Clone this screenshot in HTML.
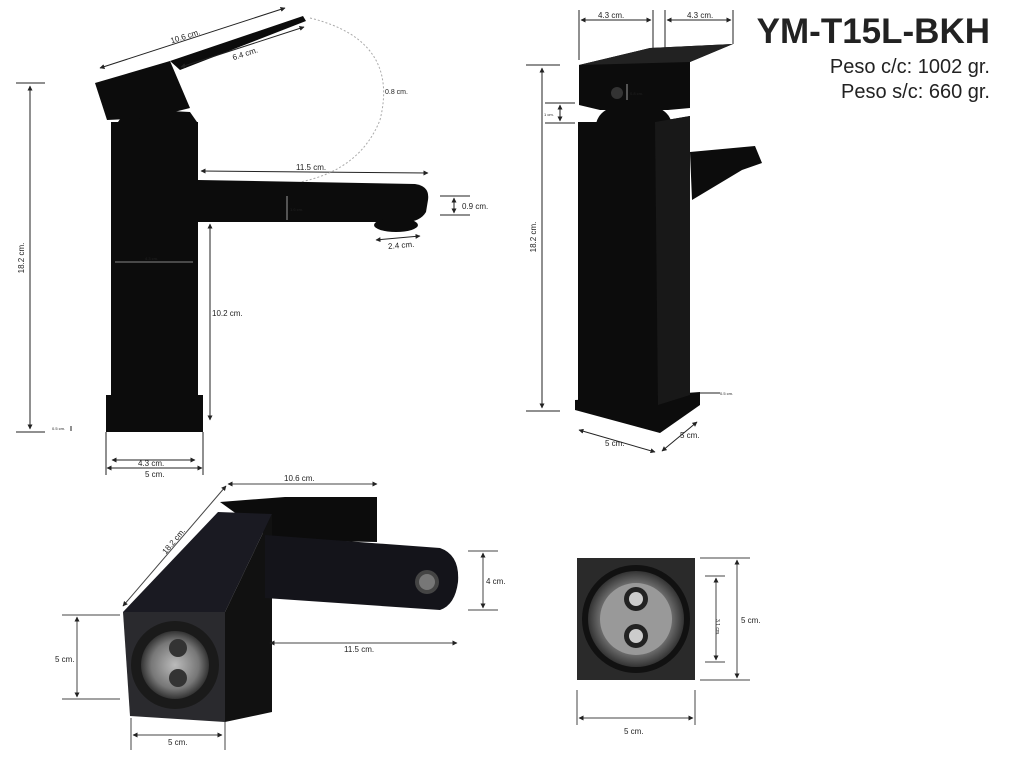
<!DOCTYPE html>
<html><head><meta charset="utf-8"><style>
html,body{margin:0;padding:0;background:#fff;width:1024px;height:768px;overflow:hidden}
svg{display:block}
text{font-family:"Liberation Sans",sans-serif;fill:#222}
</style></head><body>
<svg width="1024" height="768" viewBox="0 0 1024 768" xmlns="http://www.w3.org/2000/svg">
<defs>
<marker id="a" viewBox="0 0 10 10" refX="9" refY="5" markerWidth="5" markerHeight="5" orient="auto-start-reverse"><path d="M0,0L10,5L0,10z" fill="#222"/></marker>
<linearGradient id="g1" x1="0" x2="1"><stop offset="0" stop-color="#1a1a1a"/><stop offset="1" stop-color="#0a0a0a"/></linearGradient>
<radialGradient id="rg"><stop offset="0" stop-color="#bbb"/><stop offset="0.7" stop-color="#777"/><stop offset="1" stop-color="#333"/></radialGradient>
</defs>

<!-- Title -->
<text x="990" y="43" text-anchor="end" font-size="35" font-weight="bold" fill="#111">YM-T15L-BKH</text>
<text x="990" y="73" text-anchor="end" font-size="20">Peso c/c: 1002 gr.</text>
<text x="990" y="98" text-anchor="end" font-size="20">Peso s/c: 660 gr.</text>

<!-- ===== Top-left faucet ===== -->
<g fill="#0c0c0c">
<rect x="106" y="395" width="97" height="37"/>
<rect x="111" y="122" width="87" height="280"/>
<path d="M118,122 Q125,110 150,110 L190,112 L197,122z"/>
<polygon points="95,83 170,61 190,108 150,118 107,120"/>
<polygon points="170,61 303,16 306,21 180,70"/>
<path d="M198,180 L415,184 Q430,186 428,200 L426,212 Q420,222 405,222 L198,222z"/>
<ellipse cx="396" cy="225" rx="22" ry="7"/>
</g>
<g stroke="#222" stroke-width="1" fill="none">
<line x1="16" y1="83" x2="45" y2="83"/><line x1="16" y1="432" x2="45" y2="432"/>
<line x1="30" y1="86" x2="30" y2="429" marker-start="url(#a)" marker-end="url(#a)"/>
<line x1="100" y1="68" x2="285" y2="8" marker-start="url(#a)" marker-end="url(#a)"/>
<line x1="181" y1="67" x2="304" y2="27" marker-start="url(#a)" marker-end="url(#a)"/>
<line x1="201" y1="171" x2="428" y2="173" marker-start="url(#a)" marker-end="url(#a)"/>
<line x1="210" y1="224" x2="210" y2="420" marker-start="url(#a)" marker-end="url(#a)"/>
<line x1="440" y1="196" x2="470" y2="196"/><line x1="440" y1="215" x2="470" y2="215"/>
<line x1="454" y1="198" x2="454" y2="213" marker-start="url(#a)" marker-end="url(#a)"/>
<line x1="376" y1="240" x2="420" y2="236" marker-start="url(#a)" marker-end="url(#a)"/>
<line x1="112" y1="460" x2="195" y2="460" marker-start="url(#a)" marker-end="url(#a)"/>
<line x1="107" y1="468" x2="202" y2="468" marker-start="url(#a)" marker-end="url(#a)"/>
<line x1="106" y1="432" x2="106" y2="475"/><line x1="203" y1="432" x2="203" y2="475"/>
<line x1="71" y1="426" x2="71" y2="431"/>
</g>
<path d="M310,18 Q400,40 380,120 Q360,170 300,182" stroke="#aaa" stroke-dasharray="2,2" fill="none"/>
<g stroke="#fff" stroke-width="0.6"><line x1="115" y1="262" x2="193" y2="262"/><line x1="287" y1="196" x2="287" y2="220"/></g>
<text x="170" y="40" font-size="8" transform="rotate(-18 182 37)">10.6 cm.</text>
<text x="232" y="57" font-size="8" transform="rotate(-18 243 54)">6.4 cm.</text>
<text x="385" y="94" font-size="7">0.8 cm.</text>
<text x="296" y="170" font-size="8">11.5 cm.</text>
<text x="462" y="209" font-size="8">0.9 cm.</text>
<text x="388" y="248" font-size="8" transform="rotate(-5 400 245)">2.4 cm.</text>
<text x="212" y="316" font-size="8">10.2 cm.</text>
<text x="24" y="258" font-size="8" transform="rotate(-90 24 258)" text-anchor="middle">18.2 cm.</text>
<text x="138" y="466" font-size="8">4.3 cm.</text>
<text x="145" y="477" font-size="8">5 cm.</text>
<text x="52" y="430" font-size="4">0.5 cm.</text>
<text x="145" y="260" font-size="4" fill="#ddd">4.3 cm.</text>
<text x="290" y="211" font-size="4" fill="#ddd">1.6 cm.</text>

<!-- ===== Top-right faucet ===== -->
<g fill="#0c0c0c">
<polygon points="575,410 660,433 700,405 700,392 615,398 575,400"/>
<polygon points="578,122 655,122 690,116 690,395 658,405 578,405"/>
<path d="M596,124 Q600,104 635,104 Q668,104 672,124z"/>
<polygon points="579,65 650,48 733,44 690,62 690,108 668,110 600,110 579,105"/>
<polygon points="690,152 755,146 762,163 742,170 692,200"/>
</g>
<polygon points="579,65 650,48 733,44 690,62 579,65" fill="#222"/>
<polygon points="655,122 690,116 690,395 658,405" fill="#181818"/>
<g stroke="#222" stroke-width="1" fill="none">
<line x1="579" y1="10" x2="579" y2="60"/><line x1="653" y1="10" x2="653" y2="55"/>
<line x1="665" y1="10" x2="665" y2="48"/><line x1="733" y1="10" x2="733" y2="44"/>
<line x1="581" y1="20" x2="651" y2="20" marker-start="url(#a)" marker-end="url(#a)"/>
<line x1="667" y1="20" x2="731" y2="20" marker-start="url(#a)" marker-end="url(#a)"/>
<line x1="526" y1="65" x2="560" y2="65"/><line x1="526" y1="411" x2="560" y2="411"/>
<line x1="542" y1="68" x2="542" y2="408" marker-start="url(#a)" marker-end="url(#a)"/>
<line x1="545" y1="103" x2="575" y2="103"/><line x1="545" y1="123" x2="575" y2="123"/>
<line x1="560" y1="105" x2="560" y2="121" marker-start="url(#a)" marker-end="url(#a)"/>
<line x1="579" y1="430" x2="655" y2="452" marker-start="url(#a)" marker-end="url(#a)"/>
<line x1="662" y1="451" x2="697" y2="422" marker-start="url(#a)" marker-end="url(#a)"/>
<line x1="700" y1="393" x2="720" y2="393"/>
</g>
<circle cx="617" cy="93" r="6" fill="#333"/>
<line x1="627" y1="84" x2="627" y2="100" stroke="#fff" stroke-width="0.6"/>
<text x="598" y="18" font-size="8">4.3 cm.</text>
<text x="687" y="18" font-size="8">4.3 cm.</text>
<text x="536" y="237" font-size="8" transform="rotate(-90 536 237)" text-anchor="middle">18.2 cm.</text>
<text x="605" y="446" font-size="8">5 cm.</text>
<text x="680" y="438" font-size="8">5 cm.</text>
<text x="720" y="395" font-size="4">0.5 cm.</text>
<text x="544" y="116" font-size="4">1 cm.</text>
<text x="630" y="95" font-size="4" fill="#ddd">0.8 cm.</text>

<!-- ===== Bottom-left iso ===== -->
<g>
<polygon points="220,502 285,497 377,497 377,542 273,540" fill="#0c0c0c"/>
<polygon points="123,612 218,512 272,514 225,612" fill="#1a1a22"/>
<polygon points="225,612 272,514 272,712 225,722" fill="#111"/>
<path d="M265,535 L440,548 Q460,555 458,582 Q455,605 440,610 L265,598z" fill="#14141a"/>
<polygon points="123,612 225,612 225,722 130,716" fill="#2a2a2e"/>
<circle cx="175" cy="665" r="44" fill="#1a1a1a"/>
<circle cx="175" cy="665" r="34" fill="url(#rg)"/>
<circle cx="178" cy="648" r="9" fill="#333"/>
<circle cx="178" cy="678" r="9" fill="#333"/>
<circle cx="427" cy="582" r="12" fill="#444"/>
<circle cx="427" cy="582" r="8" fill="#777"/>
</g>
<g stroke="#444" stroke-width="1" fill="none">
<line x1="228" y1="484" x2="377" y2="484" marker-start="url(#a)" marker-end="url(#a)"/>
<line x1="226" y1="486" x2="123" y2="606" marker-start="url(#a)" marker-end="url(#a)"/>
<line x1="468" y1="551" x2="498" y2="551"/><line x1="468" y1="610" x2="498" y2="610"/>
<line x1="483" y1="553" x2="483" y2="608" marker-start="url(#a)" marker-end="url(#a)"/>
<line x1="270" y1="643" x2="457" y2="643" marker-start="url(#a)" marker-end="url(#a)"/>
<line x1="62" y1="615" x2="120" y2="615"/><line x1="62" y1="699" x2="120" y2="699"/>
<line x1="77" y1="617" x2="77" y2="697" marker-start="url(#a)" marker-end="url(#a)"/>
<line x1="133" y1="735" x2="222" y2="735" marker-start="url(#a)" marker-end="url(#a)"/>
<line x1="131" y1="718" x2="131" y2="750"/><line x1="225" y1="722" x2="225" y2="750"/>
</g>
<text x="284" y="481" font-size="8">10.6 cm.</text>
<text x="160" y="548" font-size="8" transform="rotate(-50 170 545)">18.2 cm.</text>
<text x="486" y="584" font-size="8">4 cm.</text>
<text x="344" y="652" font-size="8">11.5 cm.</text>
<text x="55" y="662" font-size="8">5 cm.</text>
<text x="168" y="745" font-size="8">5 cm.</text>

<!-- ===== Bottom-right top view ===== -->
<rect x="577" y="558" width="118" height="122" fill="#2a2a2a"/>
<circle cx="636" cy="619" r="54" fill="#111"/>
<circle cx="636" cy="619" r="48" fill="url(#rg)"/>
<circle cx="636" cy="619" r="36" fill="#999"/>
<circle cx="636" cy="599" r="12" fill="#222"/><circle cx="636" cy="599" r="7" fill="#ccc"/>
<circle cx="636" cy="636" r="12" fill="#222"/><circle cx="636" cy="636" r="7" fill="#ccc"/>
<g stroke="#444" stroke-width="1" fill="none">
<line x1="700" y1="558" x2="750" y2="558"/><line x1="700" y1="680" x2="750" y2="680"/>
<line x1="737" y1="560" x2="737" y2="678" marker-start="url(#a)" marker-end="url(#a)"/>
<line x1="705" y1="576" x2="725" y2="576"/><line x1="705" y1="662" x2="725" y2="662"/>
<line x1="716" y1="578" x2="716" y2="660" marker-start="url(#a)" marker-end="url(#a)"/>
<line x1="577" y1="690" x2="577" y2="725"/><line x1="695" y1="690" x2="695" y2="725"/>
<line x1="579" y1="718" x2="693" y2="718" marker-start="url(#a)" marker-end="url(#a)"/>
</g>
<text x="741" y="623" font-size="8">5 cm.</text>
<text x="722" y="625" font-size="5" transform="rotate(90 722 619)">3.1 cm.</text>
<text x="624" y="734" font-size="8">5 cm.</text>
</svg>
</body></html>
